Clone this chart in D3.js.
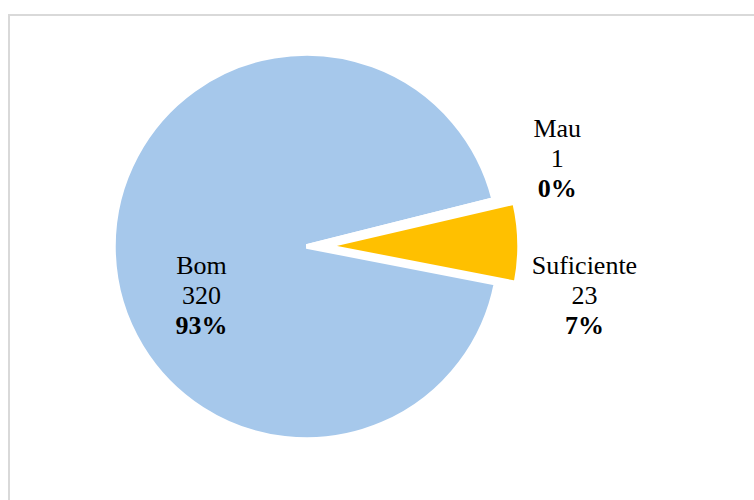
<!DOCTYPE html>
<head>
  <meta charset="utf-8">
  <script src="https://d3js.org/d3.v7.min.js"></script>
  <style>
    body { margin:0; background:#fff; }
  </style>
</head>

<body>
  <svg id="pieSVG" width=754 height=500></svg>
  <script>
    // data
    const categories = ["Bom", "Mau", "Suficiente"];
    const values = [320, 1, 23];

    // look and layout
    const colors = ["#a6c8eb", "#a5a5a5", "#ffc000"];
    const explode = [0, 0, 20];
    const labelR = [105, 258, 258];
    const labelDy = [55, -19, 63];
    const cx = 306.5, cy = 246.5, radius = 193;
    const startDeg = 101;
    const lineGap = 30;

    const total = d3.sum(values);
    const pct = d3.format(".0%");
    const rows = categories.map((c, i) => ({name: c, value: values[i], i: i}));

    const svg = d3.select("#pieSVG");

    // chart frame
    svg.append("rect")
      .attr("x", 9).attr("y", 15)
      .attr("width", 770).attr("height", 510)
      .attr("fill", "#fff")
      .attr("stroke", "#d9d9d9")
      .attr("stroke-width", 2);

    const pie = d3.pie()
      .sort(null)
      .value(d => d.value)
      .startAngle(startDeg * Math.PI / 180)
      .endAngle(startDeg * Math.PI / 180 + 2 * Math.PI);

    const arcs = pie(rows);
    const arc = d3.arc().innerRadius(0).outerRadius(radius);
    const mid = d => (d.startAngle + d.endAngle) / 2;
    const shift = (d, r) => [r * Math.sin(mid(d)), -r * Math.cos(mid(d))];

    const g = svg.append("g").attr("transform", `translate(${cx},${cy})`);

    g.selectAll("path")
      .data(arcs)
      .join("path")
      .attr("d", arc)
      .attr("transform", d => `translate(${shift(d, explode[d.data.i])})`)
      .attr("fill", d => colors[d.data.i])
      .attr("stroke", "#fff")
      .attr("stroke-width", 4.5);

    const label = g.selectAll("text")
      .data(arcs)
      .join("text")
      .attr("text-anchor", "middle")
      .style("font-family", "'Liberation Serif', 'Times New Roman', serif")
      .style("font-size", "26px")
      .attr("fill", "#000")
      .attr("transform", d => {
        const p = d3.arc().innerRadius(labelR[d.data.i]).outerRadius(labelR[d.data.i]).centroid(d);
        const e = shift(d, explode[d.data.i]);
        return `translate(${p[0] + e[0]},${p[1] + e[1] + labelDy[d.data.i]})`;
      });

    label.append("tspan").attr("x", 0).attr("y", -lineGap).text(d => d.data.name);
    label.append("tspan").attr("x", 0).attr("y", 0).text(d => d.data.value);
    label.append("tspan").attr("x", 0).attr("y", lineGap)
      .style("font-weight", "bold")
      .text(d => pct(d.data.value / total));
  </script>
</body>
